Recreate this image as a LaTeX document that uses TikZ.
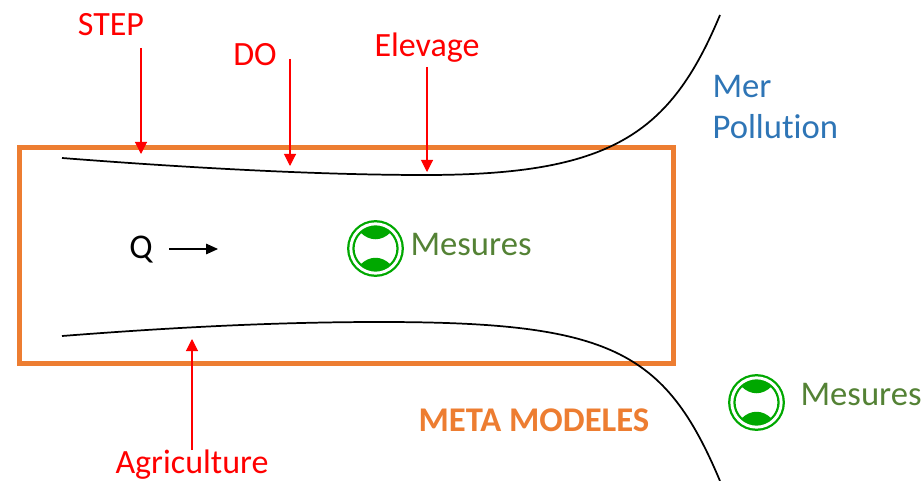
\documentclass[tikz,border=0pt]{standalone}
\usepackage{fontspec}
\setmainfont{Carlito}[Ligatures=NoCommon]
\usetikzlibrary{arrows.meta}
\definecolor{cadre}{HTML}{ED7D31}
\definecolor{vert}{HTML}{548235}
\definecolor{capt}{HTML}{00A800}
\definecolor{bleu}{HTML}{2E75B6}
\begin{document}
\begin{tikzpicture}[x=0.75pt, y=-0.75pt, thick,
  rouge/.style = {text=red, font=\fontsize{25.5}{28}\selectfont, inner sep=0pt},
  mes/.style = {text=vert, font=\fontsize{26}{30}\selectfont, inner sep=0pt, anchor=west},
  mer/.style = {text=bleu, font=\fontsize{26}{30}\selectfont, inner sep=0pt, anchor=west},
  fleche/.style = {red, line width=0.8pt, -{Triangle[length=9pt,width=9pt]}},
  riviere/.style = {black, line width=1.3pt},
  capteur/.style = {circle, draw=capt, line width=1.7pt, double, double distance=2.2pt, inner sep=0pt, minimum size=37pt,
    path picture={
      \fill[capt, shift={(path picture bounding box.center)}] (-15,-16) .. controls (-8,-24) and (8,-24) .. (15,-16) .. controls (6,-7) and (-6,-7) .. (-15,-16) -- cycle;
      \fill[capt, shift={(path picture bounding box.center)}] (-15,16) .. controls (-8,24) and (8,24) .. (15,16) .. controls (6,7) and (-6,7) .. (-15,16) -- cycle;
    }}]
\useasboundingbox (0,0) rectangle (924,481);
\node[draw=cadre, line width=3.7pt, minimum width=491pt, minimum height=162pt, inner sep=0pt] (zone) at (346.5,255.5) {};
\coordinate (h0) at (62,158);
\coordinate (h1) at (425,175);
\coordinate (h2) at (720,15);
\coordinate (b0) at (62,336);
\coordinate (b1) at (380,322);
\coordinate (b2) at (720,481);
\draw[riviere] (h0) .. controls (190,168) and (320,175) .. (h1) .. controls (610,175) and (670,135) .. (h2);
\draw[riviere] (b0) .. controls (190,326) and (290,322) .. (b1) .. controls (610,322) and (665,350) .. (b2);
\node[rouge] (step) at (111,25) {STEP};
\node[rouge] (do) at (255,55) {DO};
\node[rouge] (elevage) at (427,48) {Elevage};
\node[rouge] (agri) at (192,465) {Agriculture};
\coordinate (s0) at (141,48);
\coordinate (s1) at (141,154);
\coordinate (d0) at (290,59);
\coordinate (d1) at (290,166);
\coordinate (e0) at (427,67);
\coordinate (e1) at (427,172);
\coordinate (a0) at (192,450);
\coordinate (a1) at (192,339);
\draw[fleche] (s0) -- (s1);
\draw[fleche] (d0) -- (d1);
\draw[fleche] (e0) -- (e1);
\draw[fleche] (a0) -- (a1);
\node[mer] (mer) at (712,86) {Mer};
\node[mer] (pollution) at (712,127) {Pollution};
\node[inner sep=0pt, font=\fontsize{26}{30}\selectfont] (q) at (141,250) {Q};
\coordinate (q0) at (169,249);
\coordinate (q1) at (218,249);
\draw[black, line width=0.8pt, -{Triangle[length=9pt,width=8pt]}] (q0) -- (q1);
\node[capteur] (c1) at (375.5,248.5) {};
\node[mes] (m1) at (410,245) {Mesures};
\node[capteur] (c2) at (756.5,402.5) {};
\node[mes] (m2) at (800,395) {Mesures};
\node[text=cadre, font=\bfseries\fontsize{26}{30}\selectfont, inner sep=0pt] (meta) at (534,420) {META MODELES};
\end{tikzpicture}
\end{document}
